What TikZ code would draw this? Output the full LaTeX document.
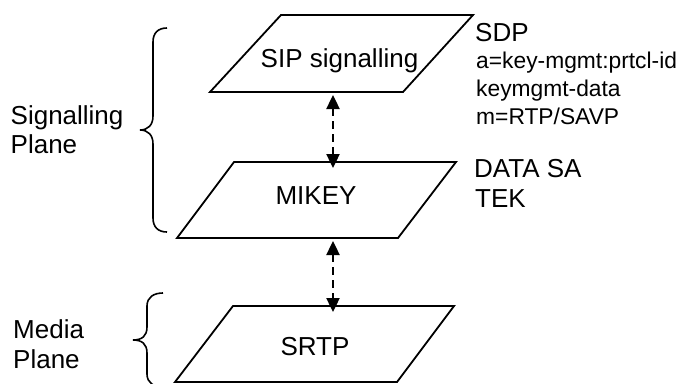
\documentclass[tikz,border=0pt]{standalone}
\usepackage{fontspec}
\setmainfont{Liberation Sans}
\usetikzlibrary{arrows.meta}
\begin{document}
\begin{tikzpicture}[x=1pt,y=-1pt,
  para/.style={draw, line width=1.8pt, line join=miter},
  brc/.style={draw, line width=1.6pt},
  big/.style={font=\fontsize{26}{29}\selectfont, inner sep=0pt},
  small/.style={font=\fontsize{22.8}{27}\selectfont, inner sep=0pt},
  conn/.style={line width=2.4pt, dash pattern=on 8pt off 5pt,
    {Triangle[length=14pt,width=13pt]}-{Triangle[length=14pt,width=13pt]},
    shorten <=3pt, shorten >=-6pt}
]
\useasboundingbox (0,0) rectangle (691,383);

% SIP signalling
\draw[para] (281,15) -- (473,15) -- (403,92) -- (210,92) -- cycle;
\node[big, anchor=base] (sip) at (339.5,67) {SIP signalling};
\coordinate (sipB) at (333,92);

% MIKEY
\draw[para] (234,162) -- (456,162) -- (398,238) -- (177,238) -- cycle;
\node[big, anchor=base] (mikey) at (316,204) {MIKEY};
\coordinate (mikeyT) at (333,162);
\coordinate (mikeyB) at (333,238);

% SRTP
\draw[para] (233,306) -- (454,306) -- (397,382) -- (175,382) -- cycle;
\node[big, anchor=base] (srtp) at (315,355) {SRTP};
\coordinate (srtpT) at (333,306);

% connectors
\draw[conn] (sipB) -- (mikeyT);
\draw[conn] (mikeyB) -- (srtpT);

% right texts
\node[big, anchor=base west] (sdp) at (475,41) {SDP};
\node[small, anchor=base west] (sdp1) at (476,68) {a=key-mgmt:prtcl-id};
\node[small, anchor=base west] (sdp2) at (476,96) {keymgmt-data};
\node[small, anchor=base west] (sdp3) at (476,124) {m=RTP/SAVP};
\node[big, anchor=base west] (datasa) at (474,177) {DATA SA};
\node[big, anchor=base west] (tek) at (475,207) {TEK};

% left labels
\node[big, anchor=base west] (sig1) at (10.5,124) {Signalling};
\node[big, anchor=base west] (sig2) at (10.5,153) {Plane};
\node[big, anchor=base west] (med1) at (13,338) {Media};
\node[big, anchor=base west] (med2) at (13,368) {Plane};

% braces
\draw[brc] (167,28) .. controls (158,28) and (153,33) .. (153,42) -- (153,116)
  .. controls (153,125) and (148,130) .. (140,130)
  .. controls (148,130) and (153,135) .. (153,144) -- (153,218)
  .. controls (153,227) and (158,232) .. (167,232);
\draw[brc] (163,293) .. controls (154,293) and (147,297) .. (147,306) -- (147,327)
  .. controls (147,336) and (142,340) .. (133,340)
  .. controls (142,340) and (147,344) .. (147,353) -- (147,374)
  .. controls (147,383) and (154,387) .. (163,387);
\end{tikzpicture}
\end{document}
